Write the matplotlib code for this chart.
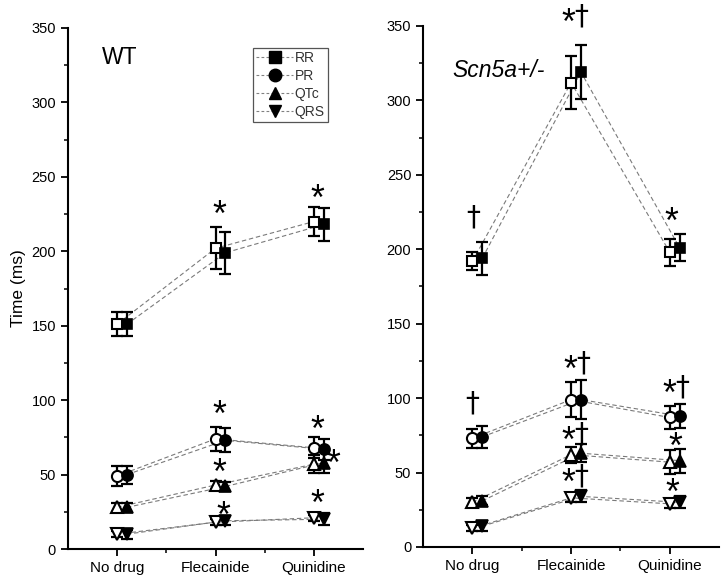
import matplotlib
matplotlib.use("Agg")
import matplotlib.pyplot as plt
import numpy as np
from matplotlib.lines import Line2D
from matplotlib.textpath import TextPath
from matplotlib.font_manager import FontProperties

plt.rcParams['font.family'] = ['Liberation Sans', 'DejaVu Sans']

categories = ["No drug", "Flecainide", "Quinidine"]
series = ["RR", "PR", "QTc", "QRS"]
markers = {"RR": "s", "PR": "o", "QTc": "^", "QRS": "v"}

# WT: open (first) and filled (second) values and SEM
wt_open = {"RR": [151, 202, 220], "PR": [49, 74, 68], "QTc": [28, 43, 57], "QRS": [10, 18, 21]}
wt_open_err = {"RR": [8, 14, 10], "PR": [6.5, 8, 7], "QTc": [3, 3, 6], "QRS": [2, 2, 2]}
wt_fill = {"RR": [151, 199, 218], "PR": [50, 73, 67], "QTc": [28, 42, 58], "QRS": [10, 19, 20]}
wt_fill_err = {"RR": [8, 14, 11], "PR": [6, 8, 7], "QTc": [3, 3, 7], "QRS": [3, 3, 4]}

# Scn5a+/-
het_open = {"RR": [192, 312, 198], "PR": [73, 99, 87], "QTc": [30, 62, 57], "QRS": [12.5, 33, 29]}
het_open_err = {"RR": [6, 18, 9], "PR": [6.5, 12, 8], "QTc": [3, 5.5, 8], "QRS": [2, 3, 3]}
het_fill = {"RR": [194, 319, 201], "PR": [74, 99, 88], "QTc": [31, 63, 58], "QRS": [14, 34, 30]}
het_fill_err = {"RR": [11, 18, 9], "PR": [7.5, 13, 8], "QTc": [3, 6, 8], "QRS": [3, 4, 4]}

# significance annotations: (x, y, text)
wt_marks = [(1.04, 229, "*"), (2.04, 240, "*"), (1.04, 95, "*"), (2.03, 85, "*"),
            (1.04, 56, "*"), (2.2, 62, "*"), (1.08, 27, "*"), (2.03, 35, "*")]
het_marks = [(0.01, 222, "†"), (1.04, 357, "*†"), (2.02, 223, "*"),
             (0.0, 97, "†"), (1.06, 124, "*†"), (2.06, 108, "*†"),
             (1.04, 76, "*†"), (2.06, 72, "*"), (1.04, 48, "*†"), (2.03, 41, "*")]

fig = plt.figure(figsize=(7.22, 5.77), dpi=100)
ax1 = fig.add_axes([0.094, 0.0485, 0.409, 0.903])
ax2 = fig.add_axes([0.586, 0.052, 0.410, 0.903])

x = np.arange(len(categories))
off = 0.1
line_kw = dict(color="#7a7a7a", linestyle=(0, (4, 2.5)), linewidth=0.8, zorder=1)

PX = 72.0 / 100.0  # points per pixel
glyph_font = {"*": FontProperties(family="Liberation Sans"),
              "†": FontProperties(family="DejaVu Sans")}
glyph_h_px = {"*": 12.5, "†": 23.0}


def glyph(ax, gx, gy, g, dx_px=0.0):
    fp = glyph_font[g]
    ext = TextPath((0, 0), g, size=1, prop=fp).get_extents()
    fs = glyph_h_px[g] * PX / ext.height
    cy = (ext.y0 + ext.y1) / 2 * fs
    cx = (ext.x0 + ext.x1) / 2 * fs
    ax.annotate(g, (gx, gy), xytext=(dx_px * PX - cx, -cy), textcoords="offset points",
                fontsize=fs, family=fp.get_family(), ha="left", va="baseline",
                zorder=4, annotation_clip=False)


def mark(ax, mx, my, t):
    if len(t) == 1:
        glyph(ax, mx, my, t)
    else:
        glyph(ax, mx, my, t[0], -6.5)
        glyph(ax, mx, my, t[1], 6.5)


def draw(ax, op, ope, fi, fie, marks, label, italic, lx, ly):
    for s in series:
        m = markers[s]
        ms = 7 if m == "s" else 8
        ax.plot(x, op[s], **line_kw)
        ax.plot(x + off, fi[s], **line_kw)
        ax.errorbar(x, op[s], yerr=ope[s], fmt="none", ecolor="black",
                    elinewidth=1.6, capsize=4, capthick=1.6, zorder=2)
        ax.errorbar(x + off, fi[s], yerr=fie[s], fmt="none", ecolor="black",
                    elinewidth=1.6, capsize=4, capthick=1.6, zorder=2)
        ax.plot(x, op[s], linestyle="none", marker=m, markersize=ms,
                markerfacecolor="white", markeredgecolor="black",
                markeredgewidth=1.5, zorder=3)
        ax.plot(x + off, fi[s], linestyle="none", marker=m, markersize=ms,
                markerfacecolor="black", markeredgecolor="black",
                markeredgewidth=1.2, zorder=3)
    for (mx, my, t) in marks:
        mark(ax, mx, my, t)
    ax.set_xlim(-0.5, 2.5)
    ax.set_ylim(0, 350)
    ax.set_xticks(x)
    ax.set_xticklabels(categories, fontsize=11)
    ax.set_xticks([0.5, 1.5], minor=True)
    ax.set_yticks(np.arange(0, 351, 50))
    ax.set_yticks(np.arange(25, 350, 50), minor=True)
    ax.tick_params(axis="both", which="major", direction="out", length=5,
                   width=1.3, labelsize=11, colors="black")
    ax.tick_params(axis="y", which="major", labelsize=10.5)
    ax.tick_params(axis="both", which="minor", direction="out", length=3,
                   width=1.1)
    for sp in ["top", "right"]:
        ax.spines[sp].set_visible(False)
    for sp in ["left", "bottom"]:
        ax.spines[sp].set_linewidth(1.5)
    ax.text(lx, ly, label, fontsize=16.5, ha="center", va="center",
            style="italic" if italic else "normal")


draw(ax1, wt_open, wt_open_err, wt_fill, wt_fill_err, wt_marks, "WT", False, 0.03, 330)
draw(ax2, het_open, het_open_err, het_fill, het_fill_err, het_marks, "Scn5a+/-", True, 0.26, 320)

ax1.set_ylabel("Time (ms)", fontsize=12.5, labelpad=4)

handles = [Line2D([0], [0], color="#808080", linestyle=(0, (2.5, 2)), linewidth=0.8,
                  marker=markers[s], markersize=9 if s != "RR" else 8,
                  markerfacecolor="black", markeredgecolor="black")
           for s in series]
leg = ax1.legend(handles, series, loc="upper left", bbox_to_anchor=(0.627, 0.962),
                 fontsize=10, frameon=True, fancybox=False, edgecolor="#555555",
                 handlelength=2.6, handletextpad=0.15, labelspacing=0.28,
                 borderpad=0.25, borderaxespad=0, framealpha=1)
leg.get_frame().set_linewidth(0.9)
for t in leg.get_texts():
    t.set_color("#333333")

fig.savefig("out.png", dpi=100)
